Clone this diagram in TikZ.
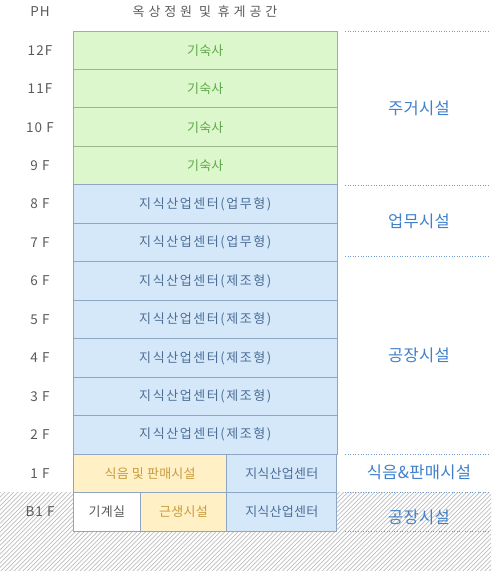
\documentclass[tikz,border=0pt]{standalone}
\usepackage{fontspec}
\usetikzlibrary{positioning}
\newfontfamily\kr[LetterSpace=2]{Noto Sans CJK KR}
\newfontfamily\krlong[LetterSpace=12]{Noto Sans CJK KR}
\newfontfamily\krroof[LetterSpace=30]{Noto Sans CJK KR}
\newfontfamily\krnum[LetterSpace=8]{Noto Sans CJK KR}
\definecolor{gfill}{HTML}{DDF7CC}
\definecolor{gline}{HTML}{9DB58A}
\definecolor{gtext}{HTML}{5FA84A}
\definecolor{bfill}{HTML}{D5E8FA}
\definecolor{bline}{HTML}{8EA6C2}
\definecolor{btext}{HTML}{4C6E96}
\definecolor{yfill}{HTML}{FFF0C6}
\definecolor{ytext}{HTML}{C89B3C}
\definecolor{flabel}{HTML}{5A5A5A}
\definecolor{zoneblue}{HTML}{3F7FCB}
\definecolor{dotblue}{HTML}{6D9BD6}
\definecolor{hatch}{HTML}{BDBDBD}
\tikzset{room/.style = {draw, line width=0.9pt, minimum height=38.46pt,
                        inner sep=0pt, font=\kr\fontsize{13}{15}\selectfont},
         house/.style = {room, fill=gfill, draw=gline, text=gtext, minimum width=263.5pt},
         office/.style = {room, fill=bfill, draw=bline, text=btext, minimum width=263.5pt,
                          font=\krlong\fontsize{13}{15}\selectfont},
         center/.style = {room, fill=bfill, draw=bline, text=btext},
         shop/.style = {room, fill=yfill, draw=bline, text=ytext},
         plain/.style = {room, fill=white, draw=bline, text=flabel},
         floorlabel/.style = {text=flabel, font=\krnum\fontsize{13.5}{15}\selectfont},
         rooflabel/.style = {text=flabel, font=\krroof\fontsize{13}{15}\selectfont},
         uselabel/.style = {text=zoneblue, font=\kr\fontsize{16.5}{19}\selectfont},
         zoneline/.style = {draw=dotblue, dotted, line width=0.6pt}}

\begin{document}
\begin{tikzpicture}[x=1pt, y=-1pt]
    \useasboundingbox (0, 0) rectangle (491, 571);

    % basement hatching
    \begin{scope}
      \clip (0, 492) rectangle (491, 571);
      \foreach \s in {-100, -95.6, ..., 500}
        \draw [hatch, line width=0.7pt] (\s, 575) -- (\s + 90, 485);
    \end{scope}

    \node [floorlabel] (ph) at (40, 12) {PH};
    \node [rooflabel] (roof) at (205, 12) {옥상정원 및 휴게공간};

    % floors 12F .. 2F
    \foreach \n/\lab/\sty/\txt [count=\i from 0] in
        {f12/12F/house/기숙사, f11/11F/house/기숙사,
         f10/10 F/house/기숙사, f9/9 F/house/기숙사,
         f8/8 F/office/지식산업센터(업무형), f7/7 F/office/지식산업센터(업무형),
         f6/6 F/office/지식산업센터(제조형), f5/5 F/office/지식산업센터(제조형),
         f4/4 F/office/지식산업센터(제조형), f3/3 F/office/지식산업센터(제조형),
         f2/2 F/office/지식산업센터(제조형)} {
      \node [\sty] (\n) at (205.25, 50.23 + 38.46*\i) {\txt};
      \node [floorlabel] (\n-lab) at (40, 50.23 + 38.46*\i) {\lab};
    }

    % 1F
    \node [shop, minimum width=153.3pt] (f1a) at (150.1, 473.3) {식음 및 판매시설};
    \node [center, minimum width=110.2pt] (f1b) at (281.8, 473.3) {지식산업센터};
    \node [floorlabel] (f1-lab) at (40, 473.3) {1 F};

    % B1F
    \node [plain, minimum width=66.7pt] (b1a) at (106.8, 511.8) {기계실};
    \node [shop, minimum width=86.6pt] (b1b) at (183.4, 511.8) {근생시설};
    \node [center, minimum width=110.2pt] (b1c) at (281.8, 511.8) {지식산업센터};
    \node [floorlabel] (b1-lab) at (40, 511.8) {B1 F};

    % zones
    \coordinate (z0) at (345, 31);
    \coordinate (z1) at (345, 184.8);
    \coordinate (z2) at (345, 256);
    \coordinate (z3) at (345, 454);
    \coordinate (z4) at (345, 492.5);
    \coordinate (z5) at (345, 531);
    \foreach \z in {z0, z1, z2, z3, z4, z5}
      \draw [zoneline] (\z) -- ++(145, 0);

    \node [uselabel] (live) at (419, 108) {주거시설};
    \node [uselabel] (work) at (419, 221) {업무시설};
    \node [uselabel] (plant) at (419, 355) {공장시설};
    \node [uselabel] (food) at (419, 472) {식음\&판매시설};
    \node [uselabel] (plantb) at (419, 517) {공장시설};
  \end{tikzpicture}
\end{document}
